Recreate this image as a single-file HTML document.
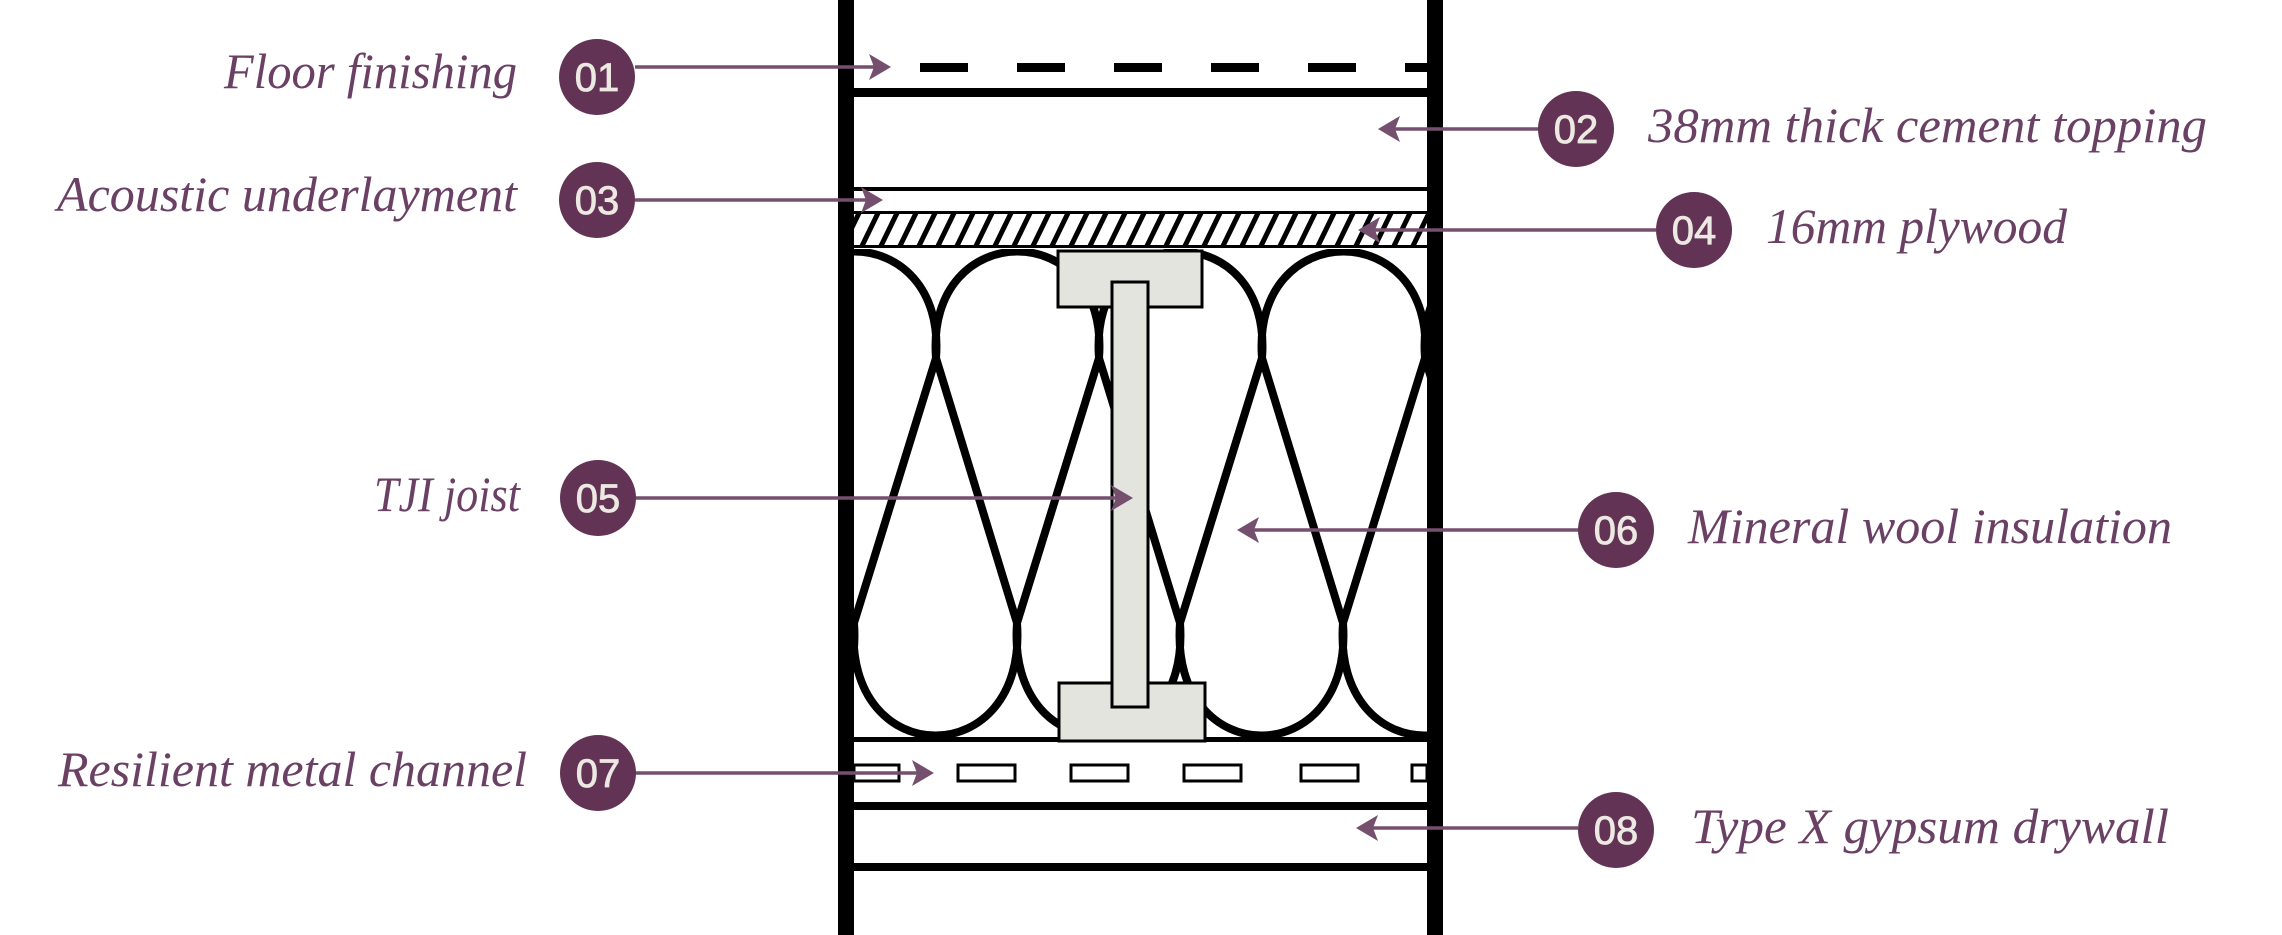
<!DOCTYPE html>
<html><head><meta charset="utf-8"><style>
html,body{margin:0;padding:0;background:#fff;}
svg{display:block;}
.lbl{font-family:"Liberation Serif",serif;font-style:italic;font-size:50px;fill:#6a4064;}
.num{font-family:"Liberation Sans",sans-serif;font-size:40px;fill:#ebe9e2;text-anchor:middle;stroke:#ebe9e2;stroke-width:0.8;}
</style></head><body>
<svg width="2282" height="935" viewBox="0 0 2282 935" xmlns="http://www.w3.org/2000/svg">
<defs>
<clipPath id="c"><rect x="854" y="249" width="573" height="490"/></clipPath>
<clipPath id="h"><rect x="854" y="214" width="573" height="31"/></clipPath>
</defs>
<rect x="838" y="0" width="16" height="935" fill="#000"/>
<rect x="1427" y="0" width="16" height="935" fill="#000"/>
<g fill="#000">
<rect x="920" y="63" width="48" height="9"/><rect x="1017" y="63" width="48" height="9"/>
<rect x="1114" y="63" width="48" height="9"/><rect x="1211" y="63" width="48" height="9"/>
<rect x="1308" y="63" width="48" height="9"/><rect x="1405" y="63" width="22" height="9"/>
</g>
<rect x="854" y="88" width="573" height="9" fill="#000"/>
<rect x="854" y="187" width="573" height="4" fill="#000"/>
<rect x="854" y="211" width="573" height="3" fill="#000"/>
<rect x="854" y="245" width="573" height="3" fill="#000"/>
<g clip-path="url(#h)" stroke="#000" stroke-width="5">
<path d="M842,248 L860,211 M861,248 L879,211 M880,248 L898,211 M899,248 L917,211 M918,248 L936,211 M937,248 L955,211 M956,248 L974,211 M975,248 L993,211 M994,248 L1012,211 M1013,248 L1031,211 M1032,248 L1050,211 M1051,248 L1069,211 M1070,248 L1088,211 M1089,248 L1107,211 M1108,248 L1126,211 M1127,248 L1145,211 M1146,248 L1164,211 M1165,248 L1183,211 M1184,248 L1202,211 M1203,248 L1221,211 M1222,248 L1240,211 M1241,248 L1259,211 M1260,248 L1278,211 M1279,248 L1297,211 M1298,248 L1316,211 M1317,248 L1335,211 M1336,248 L1354,211 M1355,248 L1373,211 M1374,248 L1392,211 M1393,248 L1411,211 M1412,248 L1430,211"/>
</g>
<g clip-path="url(#c)" fill="none" stroke="#000" stroke-width="8">
<path d="M773,358 C762,216 947,216 936,358 M936,358 C925,216 1110,216 1099,358 M1099,358 C1088,216 1273,216 1262,358 M1262,358 C1251,216 1436,216 1425,358 M1425,358 C1414,216 1599,216 1588,358"/>
<path d="M691,623 C680,773 865,773 854,623 M854,623 C843,773 1028,773 1017,623 M1017,623 C1006,773 1191,773 1180,623 M1180,623 C1169,773 1354,773 1343,623 M1343,623 C1332,773 1517,773 1506,623"/>
<path d="M773,358 L854,623 M936,358 L854,623 M936,358 L1017,623 M1099,358 L1017,623 M1099,358 L1180,623 M1262,358 L1180,623 M1262,358 L1343,623 M1425,358 L1343,623 M1425,358 L1506,623"/>
</g>
<rect x="854" y="737" width="573" height="5" fill="#000"/>
<g fill="#e4e4df" stroke="#000" stroke-width="3">
<rect x="1058" y="251" width="144" height="56"/>
<rect x="1059" y="683" width="146" height="58"/>
<rect x="1112" y="282" width="36" height="425"/>
</g>
<g fill="#fff" stroke="#000" stroke-width="3">
<rect x="854" y="765" width="45" height="16"/><rect x="958" y="765" width="57" height="16"/>
<rect x="1071" y="765" width="57" height="16"/><rect x="1184" y="765" width="57" height="16"/>
<rect x="1301" y="765" width="57" height="16"/><rect x="1412" y="765" width="15" height="16"/>
</g>
<rect x="854" y="802" width="573" height="8" fill="#000"/>
<rect x="854" y="863" width="573" height="8" fill="#000"/>
<g stroke="#74506e" stroke-width="3.5" fill="none">
<path d="M635,67 H880"/><path d="M635,200 H872"/><path d="M635,498 H1122"/><path d="M635,773 H923"/>
<path d="M1538,129 H1390"/><path d="M1656,230 H1370"/><path d="M1578,530 H1249"/><path d="M1578,828 H1368"/>
</g>
<g fill="#74506e">
<path d="M891,67 L869,54 L874,67 L869,80Z"/><path d="M883,200 L861,187 L866,200 L861,213Z"/>
<path d="M1133,498 L1111,485 L1116,498 L1111,511Z"/><path d="M934,773 L912,760 L917,773 L912,786Z"/>
<path d="M1378,129 L1400,116 L1395,129 L1400,142Z"/><path d="M1358,230 L1380,217 L1375,230 L1380,243Z"/>
<path d="M1237,530 L1259,517 L1254,530 L1259,543Z"/><path d="M1356,828 L1378,815 L1373,828 L1378,841Z"/>
</g>
<g fill="#623354">
<circle cx="597" cy="77" r="38"/><circle cx="597" cy="200" r="38"/><circle cx="598" cy="498" r="38"/><circle cx="598" cy="773" r="38"/>
<circle cx="1576" cy="129" r="38"/><circle cx="1694" cy="230" r="38"/><circle cx="1616" cy="530" r="38"/><circle cx="1616" cy="830" r="38"/>
</g>
<text class="num" x="597" y="91">01</text><text class="num" x="597" y="214">03</text>
<text class="num" x="598" y="512">05</text><text class="num" x="598" y="787">07</text>
<text class="num" x="1576" y="143">02</text><text class="num" x="1694" y="244">04</text>
<text class="num" x="1616" y="544">06</text><text class="num" x="1616" y="844">08</text>
<text class="lbl" x="224" y="88" textLength="293" lengthAdjust="spacingAndGlyphs">Floor finishing</text>
<text class="lbl" x="57" y="211" textLength="460" lengthAdjust="spacingAndGlyphs">Acoustic underlayment</text>
<text class="lbl" x="374" y="511" textLength="146" lengthAdjust="spacingAndGlyphs">TJI joist</text>
<text class="lbl" x="58" y="786" textLength="469" lengthAdjust="spacingAndGlyphs">Resilient metal channel</text>
<text class="lbl" x="1648" y="142" textLength="559" lengthAdjust="spacingAndGlyphs">38mm thick cement topping</text>
<text class="lbl" x="1766" y="243" textLength="301" lengthAdjust="spacingAndGlyphs">16mm plywood</text>
<text class="lbl" x="1688" y="543" textLength="484" lengthAdjust="spacingAndGlyphs">Mineral wool insulation</text>
<text class="lbl" x="1691" y="843" textLength="478" lengthAdjust="spacingAndGlyphs">Type X gypsum drywall</text>
</svg>
</body></html>
